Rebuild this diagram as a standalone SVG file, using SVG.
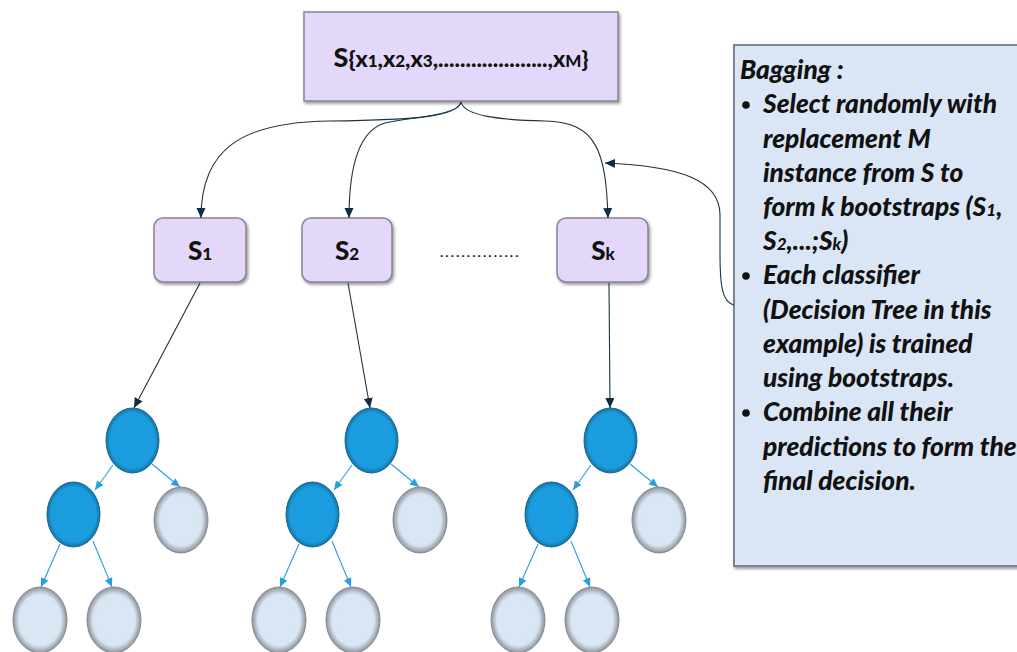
<svg xmlns="http://www.w3.org/2000/svg" width="1017" height="652" viewBox="0 0 1017 652">
<style>
.box{fill:#e4d8fa;stroke:#8a8298;stroke-width:1.5;filter:url(#sh)}
.lbl{font-family:Lato,"Liberation Sans",sans-serif;font-weight:900;fill:#111;text-anchor:middle}
.sub{font-size:17px}
.dark{fill:url(#gd);stroke:#19668f;stroke-width:1}
.light{fill:url(#gl);stroke:#858a90;stroke-width:1}
.conn{fill:none;stroke:#1a3344;stroke-width:1.1;marker-end:url(#ad)}
.tconn{fill:none;stroke:#2a9fdc;stroke-width:1.1;marker-end:url(#ab)}
.ptxt{font-family:Lato,"Liberation Sans",sans-serif;font-weight:900;font-style:italic;font-size:26.3px;fill:#111}
</style>
<defs>
<filter id="sh" x="-10%" y="-10%" width="125%" height="130%">
<feDropShadow dx="1.5" dy="2" stdDeviation="1.5" flood-color="#555" flood-opacity="0.6"/>
</filter>
<radialGradient id="gl" cx="50%" cy="50%" r="50%">
<stop offset="0" stop-color="#dbe8f6"/>
<stop offset="0.78" stop-color="#d8e5f3"/>
<stop offset="1" stop-color="#8d9299"/>
</radialGradient>
<radialGradient id="gd" cx="50%" cy="50%" r="50%">
<stop offset="0" stop-color="#1c9fe0"/>
<stop offset="0.85" stop-color="#1a9cde"/>
<stop offset="1" stop-color="#16709f"/>
</radialGradient>
<marker id="ad" markerWidth="11" markerHeight="10" refX="10" refY="4.5" orient="auto" markerUnits="userSpaceOnUse">
<path d="M0,0 L10,4.5 L0,9 z" fill="#0f2c40"/>
</marker>
<marker id="ab" markerWidth="10" markerHeight="10" refX="9" refY="4" orient="auto" markerUnits="userSpaceOnUse">
<path d="M0,0 L9,4 L0,8 z" fill="#2a9fdc"/>
</marker>
</defs>

<g id="panel">
<rect x="734" y="45" width="290" height="521" fill="#dae6f5" stroke="#7c8692" stroke-width="2" filter="url(#sh)"/>
<text class="ptxt" x="740" y="79">Bagging :</text>
<circle cx="746" cy="105" r="3.8" fill="#111"/>
<text class="ptxt" x="763" y="113">Select randomly with</text>
<text class="ptxt" x="763" y="148">replacement M</text>
<text class="ptxt" x="763" y="182">instance from S to</text>
<text class="ptxt" x="763" y="216">form k bootstraps (S<tspan font-size="17px">1</tspan>,</text>
<text class="ptxt" x="763" y="250">S<tspan font-size="17px">2</tspan>,...;S<tspan font-size="17px">k</tspan>)</text>
<circle cx="746" cy="276" r="3.8" fill="#111"/>
<text class="ptxt" x="763" y="284">Each classifier</text>
<text class="ptxt" x="763" y="319">(Decision Tree in this</text>
<text class="ptxt" x="763" y="353">example) is trained</text>
<text class="ptxt" x="763" y="387">using bootstraps.</text>
<circle cx="746" cy="413" r="3.8" fill="#111"/>
<text class="ptxt" x="763" y="421">Combine all their</text>
<text class="ptxt" x="763" y="456">predictions to form the</text>
<text class="ptxt" x="763" y="490">final decision.</text>
</g>

<g id="set-S">
<rect class="box" x="304" y="12" width="314" height="89"/>
<text class="lbl" x="461" y="67" font-size="23px"><tspan font-size="27px">S</tspan>{x<tspan class="sub">1</tspan>,x<tspan class="sub">2</tspan>,x<tspan class="sub">3</tspan>,....................,x<tspan class="sub">M</tspan>}</text>
</g>

<g id="S1">
<rect class="box" x="154" y="218" width="92" height="64" rx="9"/>
<text class="lbl" x="200" y="260" font-size="26px">S<tspan class="sub" font-size="18px">1</tspan></text>
</g>
<g id="S2">
<rect class="box" x="302" y="218" width="90" height="64" rx="9"/>
<text class="lbl" x="347" y="260" font-size="26px">S<tspan class="sub" font-size="18px">2</tspan></text>
</g>
<g id="dots">
<text x="480" y="257" font-family="Lato,'Liberation Sans',sans-serif" font-size="16px" letter-spacing="1.6px" fill="#111" text-anchor="middle">...............</text>
</g>
<g id="Sk">
<rect class="box" x="557" y="218" width="91" height="64" rx="9"/>
<text class="lbl" x="603" y="260" font-size="26px">S<tspan class="sub" font-size="18px">k</tspan></text>
</g>

<g id="tree1">
<ellipse class="dark" cx="132.5" cy="440.5" rx="26.5" ry="32.5"/>
<ellipse class="dark" cx="73.5" cy="514.5" rx="26.5" ry="32.5"/>
<ellipse class="light" cx="181" cy="520" rx="27" ry="33"/>
<ellipse class="light" cx="40" cy="620" rx="27" ry="33"/>
<ellipse class="light" cx="114" cy="620" rx="27" ry="33"/>
</g>
<g id="tree2">
<ellipse class="dark" cx="371.5" cy="440.5" rx="26.5" ry="32.5"/>
<ellipse class="dark" cx="312.5" cy="514.5" rx="26.5" ry="32.5"/>
<ellipse class="light" cx="420" cy="520" rx="27" ry="33"/>
<ellipse class="light" cx="279" cy="620" rx="27" ry="33"/>
<ellipse class="light" cx="353" cy="620" rx="27" ry="33"/>
</g>
<g id="tree3">
<ellipse class="dark" cx="610.5" cy="440.5" rx="26.5" ry="32.5"/>
<ellipse class="dark" cx="551.5" cy="514.5" rx="26.5" ry="32.5"/>
<ellipse class="light" cx="659" cy="520" rx="27" ry="33"/>
<ellipse class="light" cx="518" cy="620" rx="27" ry="33"/>
<ellipse class="light" cx="592" cy="620" rx="27" ry="33"/>
</g>

<g id="connectors">
<path class="conn" d="M461,102 C458,116 420,120 330,121 C240,122 201,150 201,218"/>
<path class="conn" d="M461,102 C458,116 410,117 385,123 C357,131 349,170 349,218"/>
<path class="conn" d="M461,102 C464,116 500,120 545,121 C596,122 606,150 608,218"/>
<path class="conn" d="M734,305 C722,302 720,285 720,255 L720,215 C720,180 680,166 605,163"/>
<path class="conn" d="M200,283 L134,408"/>
<path class="conn" d="M348,283 L370,408"/>
<path class="conn" d="M609,283 L610,408"/>
<g id="tree-edges">
<path class="tconn" d="M113,465 L95,490"/>
<path class="tconn" d="M152,464 L180,487"/>
<path class="tconn" d="M60,544 L41,587"/>
<path class="tconn" d="M93,541 L112,587"/>
<path class="tconn" d="M352,465 L334,490"/>
<path class="tconn" d="M391,464 L419,487"/>
<path class="tconn" d="M299,544 L280,587"/>
<path class="tconn" d="M332,541 L351,587"/>
<path class="tconn" d="M591,465 L573,490"/>
<path class="tconn" d="M630,464 L658,487"/>
<path class="tconn" d="M538,544 L519,587"/>
<path class="tconn" d="M571,541 L590,587"/>
</g>
</g>
</svg>
